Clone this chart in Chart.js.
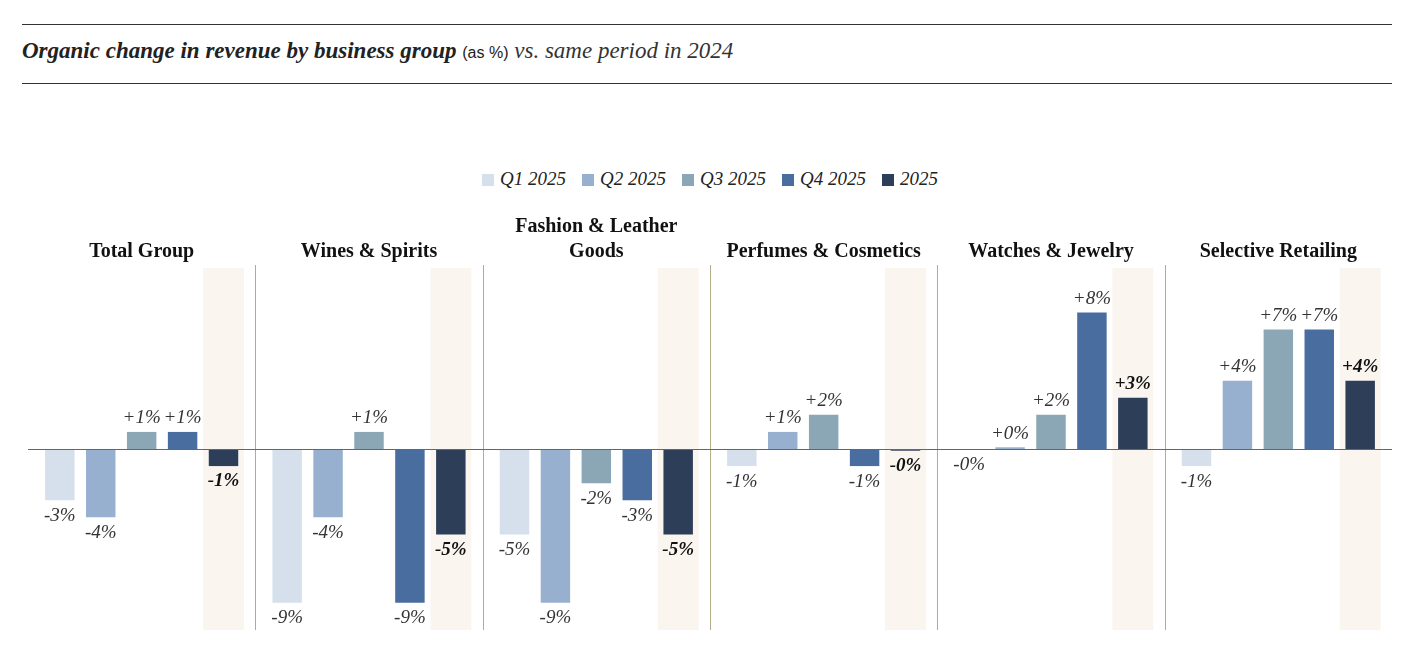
<!DOCTYPE html>
<html><head><meta charset="utf-8">
<script src="https://cdn.jsdelivr.net/npm/chart.js@4"></script>
<style>
body{margin:0;background:#fff;width:1420px;height:657px;position:relative;overflow:hidden;font-family:"Liberation Serif",serif;}
.rule{position:absolute;left:22px;width:1370px;height:1px;background:#333;}
#title{position:absolute;left:22px;top:38px;font-size:23px;color:#222;white-space:nowrap;}
#title b{font-style:italic;}
#title .s{font-family:"Liberation Sans",sans-serif;font-size:16px;}
#title i{color:#333;}
#legend{position:absolute;top:168px;left:0;width:1420px;text-align:center;font-style:italic;font-size:19px;color:#222;}
#legend span{margin:0 8px;}
#legend em{display:inline-block;width:12px;height:12px;margin-right:6px;vertical-align:-1px;}
#wrap{position:absolute;left:0;top:200px;width:1420px;height:440px;}
</style></head><body>
<div class="rule" style="top:24px"></div>
<div id="title"><b>Organic change in revenue by business group</b> <span class="s">(as %)</span> <i>vs. same period in 2024</i></div>
<div class="rule" style="top:83px"></div>
<div id="legend"></div>
<div id="wrap"><canvas id="c"></canvas></div>
<script>
const groups = ['Total Group', 'Wines & Spirits', ['Fashion & Leather', 'Goods'], 'Perfumes & Cosmetics', 'Watches & Jewelry', 'Selective Retailing'];
const seriesNames = ['Q1 2025', 'Q2 2025', 'Q3 2025', 'Q4 2025', '2025'];
const colors = ['#d6e0ec', '#98b0d0', '#8ba7b5', '#4a6da0', '#2c3e58'];
const q1 = [-3, -9, -5, -1, -0.05, -1];
const q2 = [-4, -4, -9, 1, 0.1, 4];
const q3 = [1, 1, -2, 2, 2, 7];
const q4 = [1, -9, -3, -1, 8, 7];
const fy = [-1, -5, -5, -0.1, 3, 4];
const labels = [
  ['-3%', '-9%', '-5%', '-1%', '-0%', '-1%'],
  ['-4%', '-4%', '-9%', '+1%', '+0%', '+4%'],
  ['+1%', '+1%', '-2%', '+2%', '+2%', '+7%'],
  ['+1%', '-9%', '-3%', '-1%', '+8%', '+7%'],
  ['-1%', '-5%', '-5%', '-0%', '+3%', '+4%']
];
const values = [q1, q2, q3, q4, fy];

document.getElementById('legend').innerHTML = seriesNames.map((n, i) =>
  '<span><em style="background:' + colors[i] + '"></em>' + n + '</span>').join('');

const CAT = 0.9, BAR = 0.72;

const decor = {
  id: 'decor',
  beforeDatasetsDraw(chart) {
    const ctx = chart.ctx, a = chart.chartArea, x = chart.scales.x;
    const slot = (x.getPixelForValue(1) - x.getPixelForValue(0)) * CAT / 5;
    ctx.save();
    ctx.fillStyle = '#fbf5f0';
    chart.getDatasetMeta(4).data.forEach(b => ctx.fillRect(b.x - slot / 2, a.top, slot, a.bottom - a.top));
    ctx.strokeStyle = '#b5ab8a';
    ctx.lineWidth = 1;
    for (let i = 1; i < groups.length; i++) {
      const px = Math.round((x.getPixelForValue(i - 1) + x.getPixelForValue(i)) / 2) + 0.5;
      ctx.beginPath(); ctx.moveTo(px, a.top - 3); ctx.lineTo(px, a.bottom); ctx.stroke();
    }
    ctx.restore();
  },
  afterDatasetsDraw(chart) {
    const ctx = chart.ctx, a = chart.chartArea, x = chart.scales.x, y = chart.scales.y;
    ctx.save();
    const zy = Math.round(y.getPixelForValue(0)) + 0.5;
    ctx.strokeStyle = '#666'; ctx.lineWidth = 1;
    ctx.beginPath(); ctx.moveTo(a.left, zy); ctx.lineTo(a.right, zy); ctx.stroke();
    ctx.textAlign = 'center';
    values.forEach((vals, d) => {
      ctx.font = (d === 4 ? 'italic bold ' : 'italic ') + '19px "Liberation Serif"';
      ctx.fillStyle = d === 4 ? '#111' : '#333';
      chart.getDatasetMeta(d).data.forEach((b, i) => {
        const neg = labels[d][i].startsWith('-');
        ctx.textBaseline = neg ? 'top' : 'bottom';
        ctx.fillText(labels[d][i], b.x, neg ? Math.max(b.y, zy) + 6 : Math.min(b.y, zy) - 4);
      });
    });
    ctx.font = 'bold 20px "Liberation Serif"';
    ctx.fillStyle = '#111';
    ctx.textBaseline = 'alphabetic';
    groups.forEach((g, i) => {
      const px = x.getPixelForValue(i);
      const lines = Array.isArray(g) ? g : [g];
      lines.forEach((l, k) => ctx.fillText(l, px, 57 - (lines.length - 1 - k) * 25));
    });
    ctx.restore();
  }
};

new Chart(document.getElementById('c'), {
  type: 'bar',
  data: {
    labels: groups,
    datasets: values.map((v, i) => ({
      label: seriesNames[i], data: v, backgroundColor: colors[i],
      categoryPercentage: CAT, barPercentage: BAR
    }))
  },
  options: {
    responsive: true, maintainAspectRatio: false, animation: false,
    layout: { padding: { left: 28, right: 28, top: 68, bottom: 10 } },
    plugins: { legend: { display: false }, tooltip: { enabled: false } },
    scales: {
      x: { display: false },
      y: { display: false, min: -10.6, max: 10.6 }
    }
  },
  plugins: [decor]
});
</script>
</body></html>
